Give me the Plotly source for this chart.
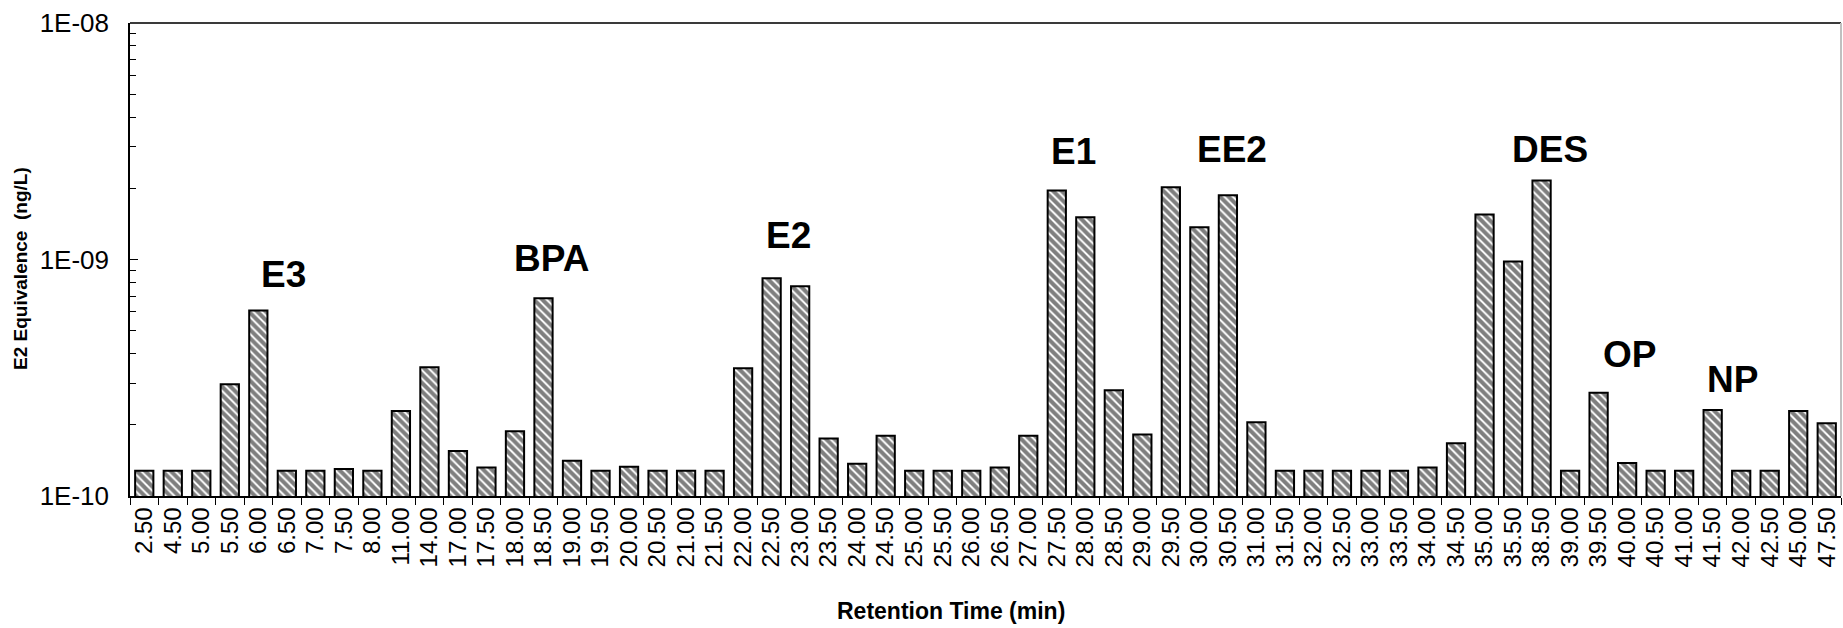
import plotly.graph_objects as go

# Retention-time fractions (min) and their E2 equivalence (ng/L)
retention_times = [
    "2.50", "4.50", "5.00", "5.50", "6.00", "6.50", "7.00", "7.50", "8.00", "11.00",
    "14.00", "17.00", "17.50", "18.00", "18.50", "19.00", "19.50", "20.00", "20.50", "21.00",
    "21.50", "22.00", "22.50", "23.00", "23.50", "24.00", "24.50", "25.00", "25.50", "26.00",
    "26.50", "27.00", "27.50", "28.00", "28.50", "29.00", "29.50", "30.00", "30.50", "31.00",
    "31.50", "32.00", "32.50", "33.00", "33.50", "34.00", "34.50", "35.00", "35.50", "38.50",
    "39.00", "39.50", "40.00", "40.50", "41.00", "41.50", "42.00", "42.50", "45.00", "47.50",
]
e2_equivalence = [
    1.28e-10, 1.28e-10, 1.28e-10, 2.97e-10, 6.08e-10, 1.28e-10, 1.28e-10, 1.30e-10, 1.28e-10, 2.29e-10,
    3.50e-10, 1.55e-10, 1.32e-10, 1.88e-10, 6.86e-10, 1.41e-10, 1.28e-10, 1.33e-10, 1.28e-10, 1.28e-10,
    1.28e-10, 3.47e-10, 8.34e-10, 7.71e-10, 1.75e-10, 1.37e-10, 1.80e-10, 1.28e-10, 1.28e-10, 1.28e-10,
    1.32e-10, 1.80e-10, 1.96e-09, 1.51e-09, 2.80e-10, 1.82e-10, 2.02e-09, 1.37e-09, 1.87e-09, 2.05e-10,
    1.28e-10, 1.28e-10, 1.28e-10, 1.28e-10, 1.28e-10, 1.32e-10, 1.67e-10, 1.55e-09, 9.80e-10, 2.16e-09,
    1.28e-10, 2.73e-10, 1.38e-10, 1.28e-10, 1.28e-10, 2.31e-10, 1.28e-10, 1.28e-10, 2.29e-10, 2.03e-10,
]

# Compound names marking the peaks
compounds = ["E3", "BPA", "E2", "E1", "EE2", "DES", "OP", "NP"]

# Where each compound name sits: category index and log10 height
label_x = [4.89, 14.28, 22.59, 32.6, 38.15, 49.3, 52.1, 55.7]
label_y = [-9.064, -8.996, -8.899, -8.545, -8.536, -8.536, -9.403, -9.506]

y_tick_vals = [1e-10, 1e-9, 1e-8]
y_tick_text = ["1E-10", "1E-09", "1E-08"]
minor_vals = [m * d for d in (1e-10, 1e-9) for m in range(2, 10)]

FONT = "Liberation Sans, Arial, sans-serif"

fig = go.Figure()
fig.add_trace(go.Bar(
    x=retention_times,
    y=e2_equivalence,
    marker=dict(
        color="white",
        line=dict(color="black", width=2),
        pattern=dict(shape="\\", fgcolor="black", bgcolor="white", size=6, solidity=0.68),
    ),
    showlegend=False,
))

for name, xi, yi in zip(compounds, label_x, label_y):
    fig.add_annotation(
        x=xi, y=yi, xref="x", yref="y", text=f"<b>{name}</b>", showarrow=False,
        font=dict(family=FONT, size=37, color="black"),
        xanchor="center", yanchor="middle",
    )

# Axis titles
fig.add_annotation(
    x=0, y=0.48, xref="paper", yref="paper", xshift=-109, text="<b>E2 Equivalence  (ng/L)</b>",
    textangle=-90, showarrow=False, font=dict(family=FONT, size=19, color="black"),
    xanchor="center", yanchor="middle",
)
fig.add_annotation(
    x=0.48, y=0, xref="paper", yref="paper", yshift=-115, text="<b>Retention Time (min)</b>",
    showarrow=False, font=dict(family=FONT, size=23, color="black"),
    xanchor="center", yanchor="middle",
)

# Frame: dark top edge, light right edge
fig.add_shape(type="line", xref="paper", yref="paper", x0=0, x1=1, y0=1, y1=1,
              line=dict(color="#3a3a3a", width=2))
fig.add_shape(type="line", xref="paper", yref="paper", x0=1, x1=1, y0=0, y1=1,
              line=dict(color="#c0c0c0", width=2))

fig.update_layout(
    width=1843, height=628,
    margin=dict(l=130, r=2, t=23, b=132),
    paper_bgcolor="white", plot_bgcolor="white",
    bargap=0.36,
    font=dict(family=FONT, color="black"),
    xaxis=dict(
        type="category", tickmode="array", tickvals=retention_times, ticktext=retention_times,
        tickangle=-90, tickson="boundaries", ticks="outside",
        ticklen=7, tickcolor="black", tickwidth=1,
        showline=True, linecolor="black", linewidth=1.5,
        showgrid=False, tickfont=dict(family=FONT, size=24, color="black"),
    ),
    yaxis=dict(
        type="log", range=[-10, -8], tickvals=y_tick_vals, ticktext=y_tick_text,
        ticks="inside", ticklen=8, tickcolor="black", tickwidth=1,
        minor=dict(tickvals=minor_vals, ticks="inside", ticklen=6, tickcolor="black", tickwidth=1),
        showline=True, linecolor="black", linewidth=1.5,
        showgrid=False, zeroline=False,
        tickfont=dict(family=FONT, size=26, color="black"), ticklabelstandoff=14,
    ),
)

fig.write_html("out.html")
